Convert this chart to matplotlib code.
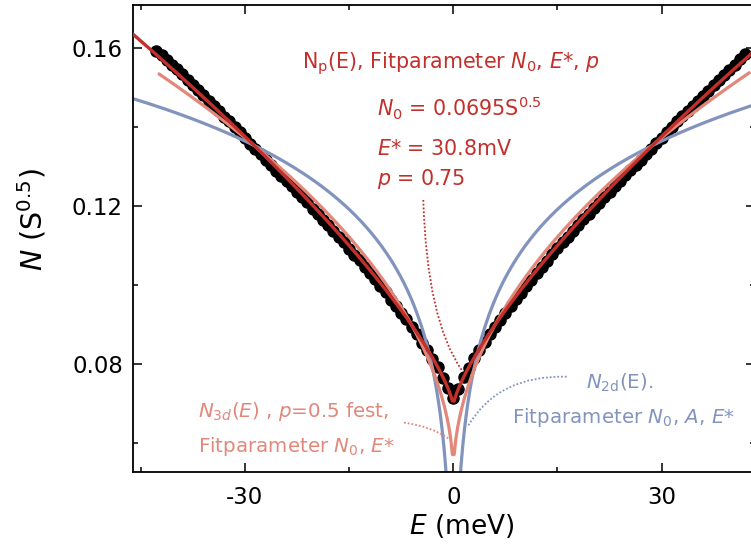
import numpy as np
import matplotlib
matplotlib.use("Agg")
import matplotlib.pyplot as plt
from matplotlib.path import Path
from matplotlib.patches import PathPatch
from matplotlib.ticker import FixedLocator

plt.rcParams.update({
    "font.family": "DejaVu Sans",
    "mathtext.fontset": "dejavusans",
})

# ---- measured tunnelling data: N(E) in S^0.5 versus bias energy E in meV ----
E_data = [
    -42.75, -42.0, -41.25, -40.5, -39.75, -39.0, -38.25, -37.5, -36.75, -36.0,
    -35.25, -34.5, -33.75, -33.0, -32.25, -31.5, -30.75, -30.0, -29.25, -28.5,
    -27.75, -27.0, -26.25, -25.5, -24.75, -24.0, -23.25, -22.5, -21.75, -21.0,
    -20.25, -19.5, -18.75, -18.0, -17.25, -16.5, -15.75, -15.0, -14.25, -13.5,
    -12.75, -12.0, -11.25, -10.5, -9.75, -9.0, -8.25, -7.5, -6.75, -6.0,
    -5.25, -4.5, -3.75, -3.0, -2.25, -1.5, -0.75, 0.0,
    0.75, 1.5, 2.25, 3.0, 3.75, 4.5, 5.25, 6.0, 6.75, 7.5,
    8.25, 9.0, 9.75, 10.5, 11.25, 12.0, 12.75, 13.5, 14.25, 15.0,
    15.75, 16.5, 17.25, 18.0, 18.75, 19.5, 20.25, 21.0, 21.75, 22.5,
    23.25, 24.0, 24.75, 25.5, 26.25, 27.0, 27.75, 28.5, 29.25, 30.0,
    30.75, 31.5, 32.25, 33.0, 33.75, 34.5, 35.25, 36.0, 36.75, 37.5,
    38.25, 39.0, 39.75, 40.5, 41.25, 42.0,
]
N_data = [
    0.1592, 0.1584, 0.1571, 0.1559, 0.1547, 0.1534, 0.1520, 0.1508, 0.1494, 0.1481,
    0.1466, 0.1455, 0.1441, 0.1427, 0.1415, 0.1400, 0.1388, 0.1372, 0.1358, 0.1346,
    0.1331, 0.1317, 0.1304, 0.1290, 0.1277, 0.1265, 0.1250, 0.1236, 0.1222, 0.1210,
    0.1194, 0.1180, 0.1166, 0.1153, 0.1137, 0.1122, 0.1109, 0.1092, 0.1077, 0.1063,
    0.1045, 0.1030, 0.1015, 0.0997, 0.0982, 0.0963, 0.0948, 0.0928, 0.0913, 0.0893,
    0.0876, 0.0854, 0.0836, 0.0813, 0.0792, 0.0765, 0.0738, 0.0713,
    0.0737, 0.0766, 0.0791, 0.0814, 0.0835, 0.0855, 0.0875, 0.0894, 0.0912, 0.0929,
    0.0947, 0.0964, 0.0981, 0.0998, 0.1014, 0.1031, 0.1046, 0.1062, 0.1078, 0.1093,
    0.1108, 0.1123, 0.1138, 0.1152, 0.1167, 0.1181, 0.1195, 0.1209, 0.1223, 0.1237,
    0.1251, 0.1264, 0.1278, 0.1291, 0.1305, 0.1318, 0.1332, 0.1345, 0.1359, 0.1373,
    0.1387, 0.1401, 0.1415, 0.1428, 0.1441, 0.1454, 0.1467, 0.1480, 0.1493, 0.1507,
    0.1520, 0.1533, 0.1546, 0.1559, 0.1572, 0.1585,
]

# ---- fit parameters ----
NP_N0, NP_ESTAR, NP_P = 0.0695, 30.8, 0.75       # N_p(E): free exponent
N3D_N0, N3D_ESTAR, N3D_P = 0.0515, 10.8, 0.5     # N_3d(E): p fixed at 0.5
N2D_N0, N2D_A, N2D_ESTAR = 0.1365, 0.183, 30.0   # N_2d(E): logarithmic

x_ticks = [-30, 0, 30]
x_minor = [-45, -15, 15, 45]
y_ticks = [0.08, 0.12, 0.16]
y_minor = [0.06, 0.10, 0.14]

RED = "#c32f2a"
PINK = "#e2877a"
BLUE = "#8294bd"


def n_power(E, n0, estar, p):
    return n0 * (1.0 + (np.abs(E) / estar) ** p)


def n_2d(E, n0, a, estar):
    return n0 * (1.0 + a * np.log(np.abs(E) / estar))


W, H = 751, 546
fig = plt.figure(figsize=(W / 100, H / 100), dpi=100)
ax = fig.add_axes([133.3 / W, 74.3 / H, (755 - 133.3) / W, 466.7 / H])
ax.set_xlim(-46.08, 43.45)
ax.set_ylim(0.0527, 0.17098)

# evaluation grid for the fit curves (half-step offset avoids E = 0)
E_fit = np.arange(-185, 175) * 0.25 + 0.125
E_3d = E_fit[(E_fit > -42.5) & (E_fit < 42.8)]

ax.plot(E_data, N_data, "o", color="black", ms=8.0, mec="black", zorder=1)
ax.plot(E_fit, n_2d(E_fit, N2D_N0, N2D_A, N2D_ESTAR), color=BLUE, lw=2.3,
        zorder=2, solid_capstyle="round")
ax.plot(E_3d, n_power(E_3d, N3D_N0, N3D_ESTAR, N3D_P), color=PINK, lw=2.3,
        zorder=3, solid_capstyle="round")
ax.plot(E_fit, n_power(E_fit, NP_N0, NP_ESTAR, NP_P), color=RED, lw=2.4,
        zorder=4, solid_capstyle="round")

# axes styling
for sp in ax.spines.values():
    sp.set_linewidth(1.3)
ax.xaxis.set_major_locator(FixedLocator(x_ticks))
ax.xaxis.set_minor_locator(FixedLocator(x_minor))
ax.yaxis.set_major_locator(FixedLocator(y_ticks))
ax.yaxis.set_minor_locator(FixedLocator(y_minor))
ax.set_xticklabels([str(t) for t in x_ticks])
ax.set_yticklabels([f"{t:.2f}" for t in y_ticks])
ax.tick_params(which="both", direction="in", top=True, right=True, width=1.1)
ax.tick_params(which="major", length=6.8)
ax.tick_params(which="minor", length=3.6)
ax.tick_params(axis="x", labelsize=16.5, pad=10)
ax.tick_params(axis="y", labelsize=16.5, pad=7.5)


def fx(x):
    return x / W


def fy(y):
    return 1 - y / H


# axis titles
fig.text(fx(461.7), fy(534.5), r"$E$ (meV)", fontsize=19, ha="center",
         va="baseline")
fig.text(fx(43), fy(219), r"$N$ (S$^{0.5}$)", fontsize=20.5, rotation=90,
         rotation_mode="anchor", ha="center", va="baseline")

# annotations
fs = 14.3
fig.text(fx(301.7), fy(68.3), r"N$_\mathrm{p}$(E), Fitparameter $N_0$, $E$*, $p$",
         color=RED, fontsize=14.9, va="baseline")
fig.text(fx(376.7), fy(116), r"$N_0$ = 0.0695S$^{0.5}$", color=RED,
         fontsize=14.9, va="baseline")
fig.text(fx(376.7), fy(155), r"$E$* = 30.8mV", color=RED, fontsize=14.9,
         va="baseline")
fig.text(fx(376.7), fy(185), r"$p$ = 0.75", color=RED, fontsize=14.9,
         va="baseline")

fig.text(fx(198.3), fy(416.7), r"$N_{\mathit{3d}}$($E$) , $p$=0.5 fest,",
         color=PINK, fontsize=fs, va="baseline")
fig.text(fx(198.3), fy(451.7), r"Fitparameter $N_0$, $E$*",
         color=PINK, fontsize=fs, va="baseline")

fig.text(fx(620), fy(388.3), r"$N_\mathrm{2d}$(E).", color=BLUE, fontsize=fs,
         ha="center", va="baseline")
fig.text(fx(624), fy(423.3), r"Fitparameter $N_0$, $A$, $E$*", color=BLUE,
         fontsize=fs, ha="center", va="baseline")

# dotted leader lines (quadratic Bezier curves in data coordinates)
leaders = [
    ([(-4.32, 0.12157), (-3.79, 0.09115), (1.21, 0.07848)], RED),
    ([(-7.10, 0.06512), (-3.30, 0.06426), (-0.72, 0.06117)], PINK),
    ([(16.33, 0.07678), (6.51, 0.07721), (2.16, 0.06441)], BLUE),
]
for pts, col in leaders:
    path = Path(pts, [Path.MOVETO, Path.CURVE3, Path.CURVE3])
    ax.add_patch(PathPatch(path, fill=False, edgecolor=col, lw=1.3,
                           linestyle=(0, (1.0, 1.1)), zorder=5))

fig.savefig("out.png", dpi=100)
